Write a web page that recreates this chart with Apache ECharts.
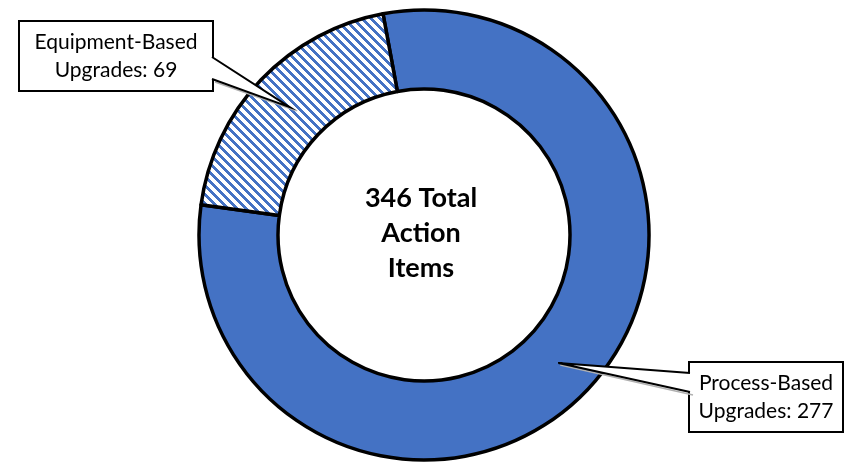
<!DOCTYPE html>
<html lang="en">
<head>
<meta charset="UTF-8">
<title>Action Items</title>
<script src="https://cdn.jsdelivr.net/npm/echarts@6/dist/echarts.min.js"></script>
</head>
<body style="margin:0;background:#fff;">
<div id="chart" style="width:859px;height:464px;"></div>
<script>
// data
var categories = ['Process-Based Upgrades', 'Equipment-Based Upgrades'];
var values = [277, 69];
var centerLines = ['Total', 'Action', 'Items'];

// layout (pixels)
var cx = 424, cy = 235, rIn = 146, rOut = 225, startAngle = 100.5;
// callout boxes: left/top/width/height, side where the pointer leaves, pointer base offsets
var boxes = [
    { x: 690, y: 363, w: 152, h: 68, side: 'left', b0: 10, b1: 29 },
    { x: 20, y: 22, w: 192, h: 68, side: 'right', b0: 35, b1: 57 }
];

var blue = '#4472C4';

// hatch pattern for the equipment slice
var P = 9;
var hatch = document.createElement('canvas');
hatch.width = P; hatch.height = P;
var hc = hatch.getContext('2d');
hc.fillStyle = '#fff';
hc.fillRect(0, 0, P, P);
hc.fillStyle = blue;
for (var py = 0; py < P; py++) {
    for (var px = 0; px < P; px++) {
        if (((px - py) % P + P) % P < 4) hc.fillRect(px, py, 1, 1);
    }
}

var total = values.reduce(function (a, b) { return a + b; }, 0);

var data = categories.map(function (name, i) {
    var b = boxes[i];
    return {
        name: name,
        value: values[i],
        itemStyle: { color: i === 0 ? blue : { image: hatch, repeat: 'repeat' } },
        label: { width: b.w - 8, height: b.h - 12 }
    };
});

// pointer tips sit at the middle of each slice, half way through the ring
var graphics = [];
var cum = 0;
values.forEach(function (v, i) {
    var a = (startAngle - (cum + v / 2) / total * 360) * Math.PI / 180;
    cum += v;
    var rm = (rIn + rOut) / 2;
    var tip = [cx + rm * Math.cos(a), cy - rm * Math.sin(a)];
    var b = boxes[i];
    var ex = b.side === 'left' ? b.x : b.x + b.w;
    var inner = b.side === 'left' ? ex + 3 : ex - 3;
    var p0 = [ex, b.y + b.b0], p1 = [ex, b.y + b.b1];
    graphics.push({
        type: 'polyline', z: 99, silent: true,
        shape: { points: [[p0[0] + 3, p0[1] + 3], [tip[0] + 2, tip[1] + 2], [p1[0] + 3, p1[1] + 3]] },
        style: { stroke: '#b0b0b0', lineWidth: 1.5, fill: null }
    });
    graphics.push({
        type: 'polygon', z: 100, silent: true,
        shape: { points: [[inner, p0[1]], p0, tip, p1, [inner, p1[1]]] },
        style: { fill: '#fff', stroke: null }
    });
    graphics.push({
        type: 'polyline', z: 101, silent: true,
        shape: { points: [p0, tip, p1] },
        style: { stroke: '#000', lineWidth: 2, fill: null, lineJoin: 'miter' }
    });
});

graphics.push({
    type: 'text', z: 100, silent: true,
    x: cx - 3, y: cy - 2,
    style: {
        text: total + ' ' + centerLines.join('\n'),
        fontFamily: 'Lato', fontWeight: 'bold', fontSize: 27,
        lineHeight: 35,
        textAlign: 'center', textVerticalAlign: 'middle',
        fill: '#000'
    }
});

var chart = echarts.init(document.getElementById('chart'));
chart.setOption({
    animation: false,
    series: [{
        type: 'pie',
        center: [cx, cy],
        radius: [rIn, rOut],
        startAngle: startAngle,
        clockwise: true,
        silent: true,
        data: data,
        itemStyle: { borderColor: '#000', borderWidth: 3.5 },
        label: {
            show: true,
            fontFamily: 'Lato',
            fontSize: 21,
            lineHeight: 28,
            color: '#000',
            backgroundColor: '#fff',
            borderColor: '#000',
            borderWidth: 2,
            padding: [6, 4],
            overflow: 'none',
            align: 'center',
            verticalAlign: 'middle',
            formatter: function (p) {
                return p.name.replace(' ', '\n') + ': ' + p.value;
            }
        },
        labelLine: { show: false },
        labelLayout: function (p) {
            var b = boxes[p.dataIndex];
            return { x: b.x + b.w / 2, y: b.y + b.h / 2, align: 'center', verticalAlign: 'middle' };
        }
    }],
    graphic: graphics
});
</script>
</body>
</html>
